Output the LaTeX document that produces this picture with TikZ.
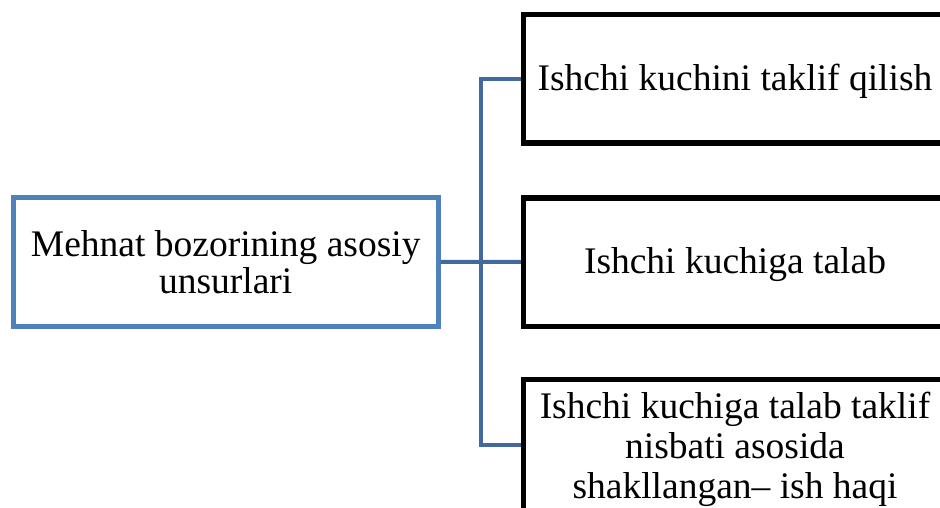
\documentclass[tikz,border=0pt]{standalone}
\usepackage{fontspec}
\setmainfont{Liberation Serif}
\definecolor{leftblue}{HTML}{4F81BD}
\definecolor{connblue}{HTML}{41699E}
\begin{document}
\begin{tikzpicture}[x=1pt,y=-1pt,
  mainbox/.style={draw=leftblue, line width=5pt, fill=white, rectangle,
    minimum width=424.5pt, minimum height=128.5pt, inner sep=0pt,
    align=center, font=\fontsize{37.5}{37}\selectfont},
  itembox/.style={draw=black, line width=5.5pt, fill=white, rectangle,
    minimum width=423pt, minimum height=128.5pt, inner sep=0pt,
    align=center, font=\fontsize{37.5}{40}\selectfont},
  oneline/.style={text height=30pt, text depth=7pt},
  conn/.style={draw=connblue, line width=4pt}]
  \useasboundingbox (0,0) rectangle (940,508);
  \clip (0,0) rectangle (940,508);

  % main element on the left
  \node[mainbox] (main) at (225.75,261.75) {Mehnat bozorining asosiy\\unsurlari};

  % the three elements on the right
  \node[itembox, oneline] (supply) at (735,78.75) {Ishchi kuchini taklif qilish};
  \node[itembox, oneline] (demand) at (735,262) {Ishchi kuchiga talab};
  \node[itembox, minimum height=140pt] (wage) at (735,449.5)
    {Ishchi kuchiga talab taklif\\nisbati asosida\\shakllangan-- ish haqi};

  % bracket connector
  \coordinate (bus) at (481,262);
  \draw[conn] (main.east) -- (demand.west);
  \draw[conn] (supply.west) -| (bus) |- ([yshift=4.5pt]wage.west);
\end{tikzpicture}
\end{document}
